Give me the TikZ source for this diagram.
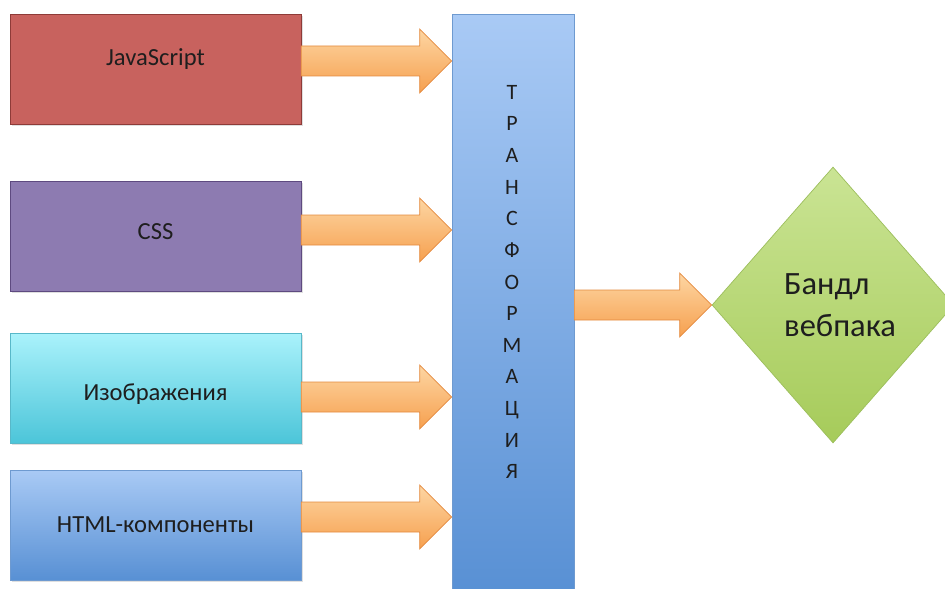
\documentclass[tikz,border=0pt]{standalone}
\usepackage{fontspec}
\setmainfont{Carlito}
\usetikzlibrary{calc,shapes.geometric,shadows}
%
\definecolor{jsfill}{HTML}{C8625E}
\definecolor{jsline}{HTML}{8E3B38}
\definecolor{cssfill}{HTML}{8D7BB1}
\definecolor{cssline}{HTML}{5E4A80}
\definecolor{imgtop}{HTML}{AAF2FB}
\definecolor{imgbot}{HTML}{4CC5D9}
\definecolor{imgline}{HTML}{58B8C9}
\definecolor{bluetop}{HTML}{A9CAF5}
\definecolor{bluebot}{HTML}{5890D4}
\definecolor{blueline}{HTML}{6E9AD0}
\definecolor{greentop}{HTML}{CAE494}
\definecolor{greenbot}{HTML}{A6CB5A}
\definecolor{greenline}{HTML}{9CBE5C}
\definecolor{arrtop}{HTML}{FDD6A3}
\definecolor{arrbot}{HTML}{F6A04F}
\definecolor{arrline}{HTML}{E48A3F}
\definecolor{txt}{HTML}{1E1E1E}
%
% fat arrow: #1 start, #2 tip (same height)
\newcommand{\fatarrow}[2]{%
  \draw[ARROW] ($(#1)+(0,-15)$) -- ($(#2)+(-32,-15)$) -- ($(#2)+(-32,-32)$)
     -- (#2) -- ($(#2)+(-32,32)$) -- ($(#2)+(-32,15)$) -- ($(#1)+(0,15)$) -- cycle;}
% shift a label without changing its box
\newcommand{\lift}[2]{\raisebox{#1}[\height][\depth]{#2}}
%
\begin{document}
\begin{tikzpicture}
[
 x=0.02cm, y=-0.02cm,
 every node/.style={text=txt},
 BOX/.style={rectangle, thin, minimum width=5.82cm, minimum height=2.2cm,
             font=\fontsize{14}{17}\selectfont,
             drop shadow={opacity=0.25, shadow xshift=1.2pt, shadow yshift=-1.2pt}},
 BAR/.style={rectangle, thin, draw=blueline, top color=bluetop, bottom color=bluebot,
             minimum width=2.44cm, minimum height=11.6cm},
 BUNDLE/.style={diamond, thin, draw=greenline, top color=greentop, bottom color=greenbot,
             minimum width=4.84cm, minimum height=5.52cm, inner sep=1mm,
             align=left, font=\fontsize{18.5}{24}\selectfont},
 ARROW/.style={draw=arrline, thin, line join=miter, top color=arrtop, bottom color=arrbot},
 ]
\useasboundingbox (0,0) rectangle (945,588);
%
\node [BOX, draw=jsline,  fill=jsfill]   (JS)   at (155.5, 69)  {\lift{5.7pt}{JavaScript}};
\node [BOX, draw=cssline, fill=cssfill]  (CSS)  at (155.5,236)  {\lift{2.3pt}{CSS}};
\node [BOX, draw=imgline, top color=imgtop, bottom color=imgbot]   (IMG)  at (155.5,388)  {\lift{-3.4pt}{Изображения}};
\node [BOX, draw=blueline, top color=bluetop, bottom color=bluebot] (HTML) at (155.5,525)  {HTML-компоненты};
%
\node [BAR]  (TR)  at (513,304)  {};
\node [align=center, font=\fontsize{12.5}{18}\selectfont] (TRtxt) at (512,282)
      {Т\\Р\\А\\Н\\С\\Ф\\О\\Р\\М\\А\\Ц\\И\\Я};
%
\node [BUNDLE]  (B)  at (833,305)  {\hspace*{8pt}Бандл\\\hspace*{8pt}вебпака};
%
\coordinate (s1) at ($(JS.east)+(0,-8)$);
\coordinate (s2) at ($(CSS.east)+(0,-6)$);
\coordinate (s3) at ($(IMG.east)+(0,9)$);
\coordinate (s4) at ($(HTML.east)+(0,-8)$);
\coordinate (s5) at (TR.east |- B.west);
%
\fatarrow{s1}{TR.west |- s1}
\fatarrow{s2}{TR.west |- s2}
\fatarrow{s3}{TR.west |- s3}
\fatarrow{s4}{TR.west |- s4}
\fatarrow{s5}{B.west}
%
\end{tikzpicture}
\end{document}
